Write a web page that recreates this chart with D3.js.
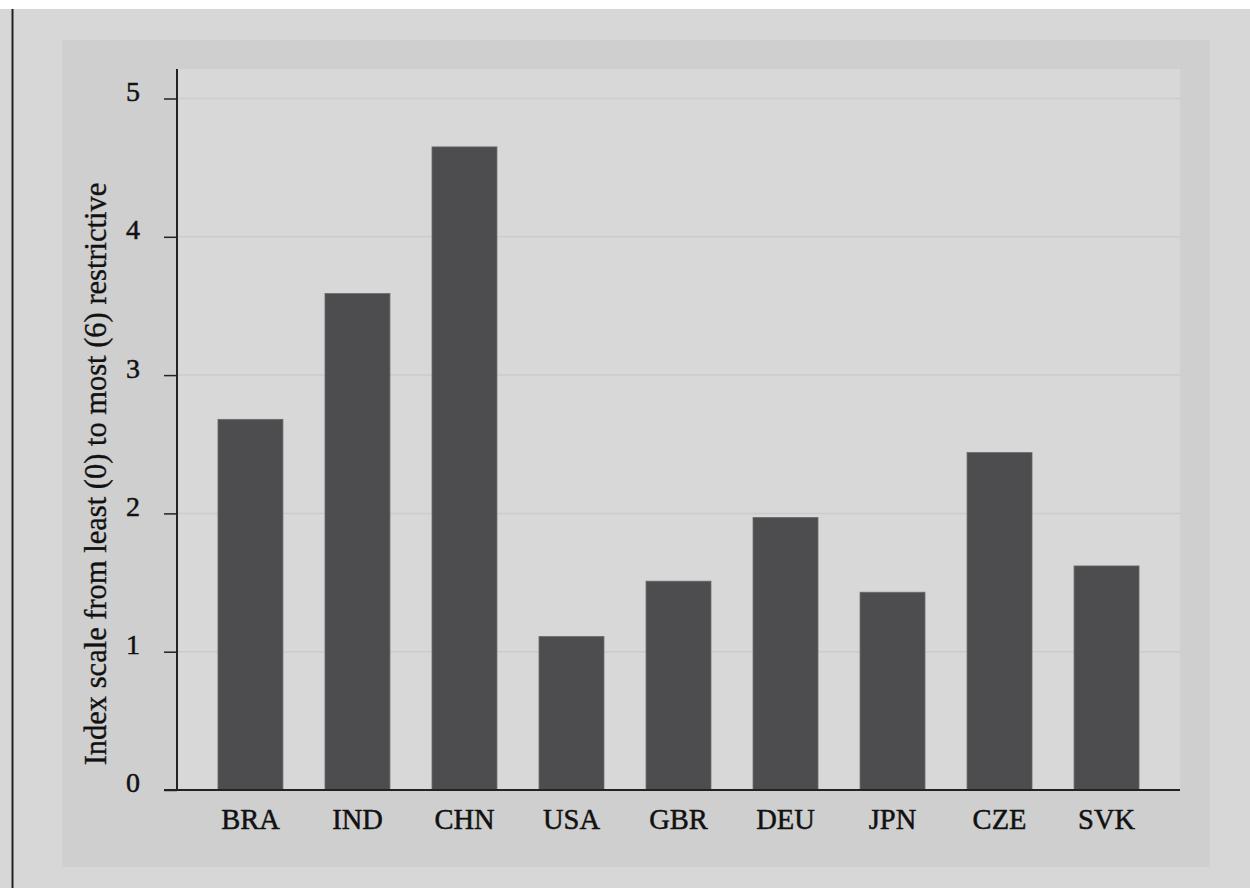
<!DOCTYPE html>
<html><head><meta charset="utf-8">
<script src="https://cdn.jsdelivr.net/npm/d3@7"></script>
<style>
html,body{margin:0;padding:0;background:#d7d7d7;}
svg{display:block;}
</style></head>
<body>
<svg id="chart" width="1250" height="888"></svg>
<script>
const categories = ["BRA","IND","CHN","USA","GBR","DEU","JPN","CZE","SVK"];
const values = [2.68, 3.59, 4.65, 1.11, 1.51, 1.97, 1.43, 2.44, 1.62];
const yTicks = [0,1,2,3,4,5];
const yTitle = "Index scale from least (0) to most (6) restrictive";

const svg = d3.select("#chart");
const W = 1250, H = 888;
const plot = {left:177, right:1180, top:69, bottom:790};
const fontFam = "'Liberation Serif','Times New Roman',serif";

// page
svg.append("rect").attr("x",0).attr("y",0).attr("width",W).attr("height",H).attr("fill","#d7d7d7");
svg.append("rect").attr("x",0).attr("y",0).attr("width",W).attr("height",9).attr("fill","#ffffff");
svg.append("line").attr("x1",12.5).attr("x2",12.5).attr("y1",9).attr("y2",H).attr("stroke","#222").attr("stroke-width",2);

// chart background
svg.append("rect").attr("x",62).attr("y",40).attr("width",1210-62).attr("height",867-40).attr("fill","#cfcfcf");
svg.append("rect").attr("x",plot.left).attr("y",plot.top).attr("width",plot.right-plot.left).attr("height",plot.bottom-plot.top).attr("fill","#d8d8d8");

const x = d3.scaleBand().domain(categories).range([plot.left, plot.right]).paddingInner(0.393).paddingOuter(0.383);
const y = d3.scaleLinear().domain([0,5]).range([plot.bottom, 98.5]);

// gridlines
svg.append("g").selectAll("line").data(yTicks.filter(d=>d>0)).join("line")
  .attr("x1",plot.left).attr("x2",plot.right)
  .attr("y1",d=>y(d)).attr("y2",d=>y(d))
  .attr("stroke","#cbcbcb").attr("stroke-width",1.5);

// bars
svg.append("g").selectAll("rect").data(values).join("rect")
  .attr("x",(d,i)=>x(categories[i]))
  .attr("width",x.bandwidth())
  .attr("y",d=>y(d))
  .attr("height",d=>plot.bottom - y(d))
  .attr("fill","#4d4d4f")
  .attr("stroke","#6a6a6a").attr("stroke-width",0.8);

// y axis
const yAxis = d3.axisLeft(y).tickValues(yTicks).tickSize(13).tickPadding(0).tickFormat(d3.format("d"));
const gy = svg.append("g").attr("transform",`translate(${plot.left},0)`).call(yAxis);
gy.select(".domain").remove();
gy.selectAll(".tick line").attr("stroke","#222").attr("stroke-width",1.5);
gy.selectAll(".tick text").attr("font-family",fontFam).attr("font-size",28).attr("fill","#111")
  .attr("stroke","#111").attr("stroke-width",0.5)
  .attr("text-anchor","middle").attr("x",-44).attr("dy","0.07em");
svg.append("line").attr("x1",plot.left).attr("x2",plot.left).attr("y1",plot.top).attr("y2",plot.bottom).attr("stroke","#222").attr("stroke-width",2);

// x axis
const xAxis = d3.axisBottom(x).tickSize(0).tickPadding(19);
const gx = svg.append("g").attr("transform",`translate(0,${plot.bottom})`).call(xAxis);
gx.select(".domain").remove();
gx.selectAll(".tick text").attr("font-family",fontFam).attr("font-size",28.5).attr("fill","#111")
  .attr("stroke","#111").attr("stroke-width",0.5);
svg.append("line").attr("x1",164).attr("x2",plot.right).attr("y1",plot.bottom).attr("y2",plot.bottom).attr("stroke","#222").attr("stroke-width",2);

// y title
svg.append("text").attr("transform",`translate(106,474) rotate(-90)`)
  .attr("text-anchor","middle").attr("font-family",fontFam).attr("font-size",30.5).attr("fill","#111")
  .attr("stroke","#111").attr("stroke-width",0.35)
  .text(yTitle);
</script>
</body></html>
